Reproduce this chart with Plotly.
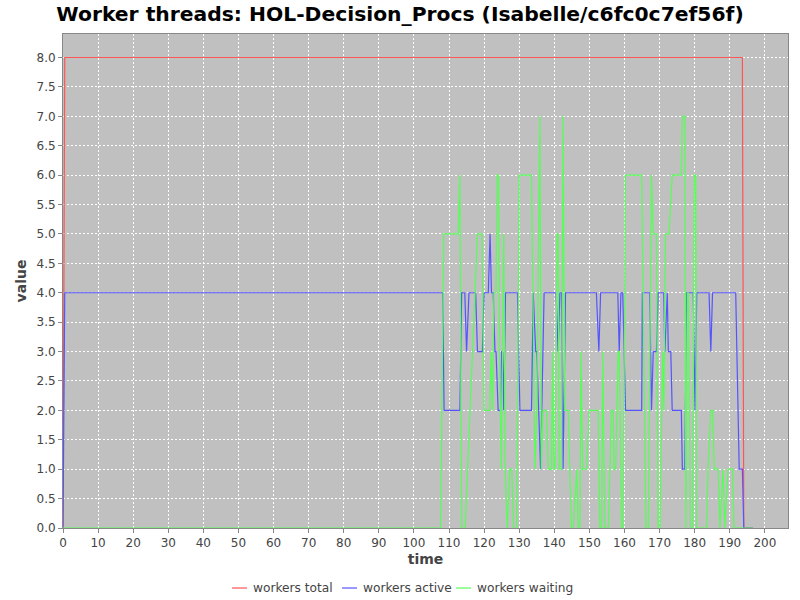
import plotly.graph_objects as go

# ---- data (time in seconds, values = number of threads) ----
total_t = [0, 0.5, 193.6, 194.0, 196.6]
total_v = [0, 8, 8, 0, 0]

active_t = [0, 0.5, 108.2, 108.6, 113.1, 113.6, 114.5, 115.0, 115.7, 117.6, 118.1, 119.5,
            120.0, 121.2, 121.7, 122.1, 122.6, 123.1, 123.4, 124.0, 124.7, 125.0, 125.3,
            125.6, 126.1, 129.5, 130.2, 133.5, 134.0, 134.7, 135.0, 136.1, 137.1, 140.5,
            141.1, 141.6, 142.1, 142.5, 143.2, 152.0, 152.7, 153.2, 158.1, 158.5, 159.0,
            159.5, 160.3, 164.9, 165.1, 167.2, 167.7, 168.2, 169.1, 169.6, 171.2, 171.5,
            172.2, 172.5, 173.2, 173.6, 176.2, 176.5, 177.2, 177.7, 179.6, 180.1, 180.6,
            184.1, 184.6, 185.1, 191.7, 192.7, 193.6, 194.0, 196.6]
active_v = [0, 4, 4, 2, 2, 4, 4, 3, 4, 4, 3, 3,
            4, 4, 5, 4, 4, 3, 3, 2, 2, 3, 3,
            2, 4, 4, 2, 2, 4, 3, 3, 1, 4, 4,
            3, 4, 4, 1, 4, 4, 3, 4, 4, 3, 4,
            4, 2, 2, 4, 4, 2, 3, 3, 4, 4, 3,
            4, 3, 3, 2, 2, 1, 1, 4, 4, 2, 4,
            4, 3, 4, 4, 1, 1, 0, 0]

waiting_t = [0, 107.6, 108.5, 112.6, 113.1, 113.6, 114.6, 118.1, 119.4, 120.0, 121.6,
             122.0, 122.4, 122.8, 123.4, 123.7, 124.1, 124.4, 124.9, 125.6, 126.0, 126.6,
             127.3, 127.9, 128.4, 129.3, 130.0, 133.5, 134.5, 135.0, 135.9, 136.3, 136.8,
             137.8, 138.3, 139.2, 139.5, 139.9, 140.2, 140.8, 141.1, 141.4, 142.1, 142.5,
             143.0, 144.0, 144.4, 144.9, 145.4, 146.4, 146.8, 147.3, 147.6, 148.1, 149.2,
             149.9, 152.5, 153.0, 153.5, 153.8, 154.4, 155.4, 156.3, 156.8, 157.0, 157.5,
             158.2, 158.5, 159.2, 159.6, 160.3, 164.9, 166.1, 166.8, 167.7, 168.2, 169.1,
             169.6, 170.1, 170.9, 171.2, 171.7, 172.7, 173.6, 176.2, 176.5, 177.2, 177.5,
             177.9, 178.2, 178.8, 179.4, 179.9, 180.3, 180.5, 183.4, 183.8, 184.6, 185.1,
             185.6, 186.7, 187.2, 188.1, 188.6, 189.5, 190.8, 191.2, 196.6]
waiting_v = [0, 0, 5, 5, 6, 0, 0, 5, 5, 2, 2,
             3, 2, 4, 4, 6, 6, 3, 1, 5, 1, 0,
             1, 1, 0, 0, 6, 6, 1, 2, 7, 1, 2,
             2, 1, 1, 3, 1, 1, 5, 5, 1, 1, 7,
             2, 2, 1, 0, 0, 1, 0, 0, 3, 1, 1,
             2, 2, 0, 0, 3, 0, 0, 2, 2, 1, 1,
             3, 3, 0, 0, 6, 6, 0, 0, 6, 5, 5,
             0, 0, 3, 2, 5, 5, 6, 6, 7, 7, 0,
             4, 4, 0, 0, 6, 6, 0, 0, 1, 2, 2,
             1, 1, 0, 1, 0, 1, 1, 0, 0]

series_names = ["workers total", "workers active", "workers waiting"]
series_colors = ["#FF5555", "#5555FF", "#55FF55"]
series_data = [(total_t, total_v), (active_t, active_v), (waiting_t, waiting_v)]

fig = go.Figure()
for name, (t, v), c in zip(series_names, series_data, series_colors):
    fig.add_trace(go.Scatter(x=t, y=v, mode="lines", name=name, showlegend=False,
                             line=dict(color=c, width=1.2)))

font_family = "DejaVu Sans"

# legend drawn below the plot, JFreeChart style (short line + label)
legend_x = [0.2331, 0.3848, 0.5421]   # paper x of each legend sample line start
legend_y = -0.1215
for name, c, lx in zip(series_names, series_colors, legend_x):
    fig.add_shape(type="line", xref="paper", yref="paper",
                  x0=lx, x1=lx + 0.0207, y0=legend_y, y1=legend_y,
                  line=dict(color=c, width=1.2))
    fig.add_annotation(xref="paper", yref="paper", x=lx + 0.0262, y=legend_y,
                       xanchor="left", yanchor="middle", showarrow=False, text=name,
                       font=dict(family=font_family, size=12.2, color="#444444"))

fig.update_layout(
    width=800, height=600,
    paper_bgcolor="white",
    plot_bgcolor="#C0C0C0",
    margin=dict(l=63, r=12, t=34, b=72, autoexpand=False),
    title=dict(text="<b>Worker threads: HOL-Decision_Procs (Isabelle/c6fc0c7ef56f)</b>",
               x=0.5, xref="container", xanchor="center",
               y=1 - 14 / 600, yref="container", yanchor="middle",
               font=dict(family=font_family, size=20.3, color="black")),
    showlegend=False,
    font=dict(family=font_family, size=12, color="#444444"),
)
fig.update_xaxes(
    automargin=False,
    range=[0, 206.6], dtick=10, tick0=0,
    showgrid=True, gridcolor="white", griddash="2px,2px", gridwidth=1,
    zeroline=False, showline=True, linecolor="#888888", mirror=True,
    ticks="outside", ticklen=4, tickcolor="#888888",
    tickfont=dict(family=font_family, size=12, color="#444444"),
    title=dict(text="<b>time</b>", font=dict(family=font_family, size=14, color="#444444"),
               standoff=4),
)
fig.update_yaxes(
    automargin=False,
    range=[0, 8.4], dtick=0.5, tick0=0, tickformat=".1f",
    showgrid=True, gridcolor="white", griddash="2px,2px", gridwidth=1,
    zeroline=False, showline=True, linecolor="#888888", mirror=True,
    ticks="outside", ticklen=4, tickcolor="#888888",
    tickfont=dict(family=font_family, size=12, color="#444444"),
    title=dict(text="<b>value</b>", font=dict(family=font_family, size=14, color="#444444"),
               standoff=6),
)
fig.write_html("out.html", config={"displayModeBar": False},
               post_script="document.body.style.margin='0';document.body.style.padding='0';")
